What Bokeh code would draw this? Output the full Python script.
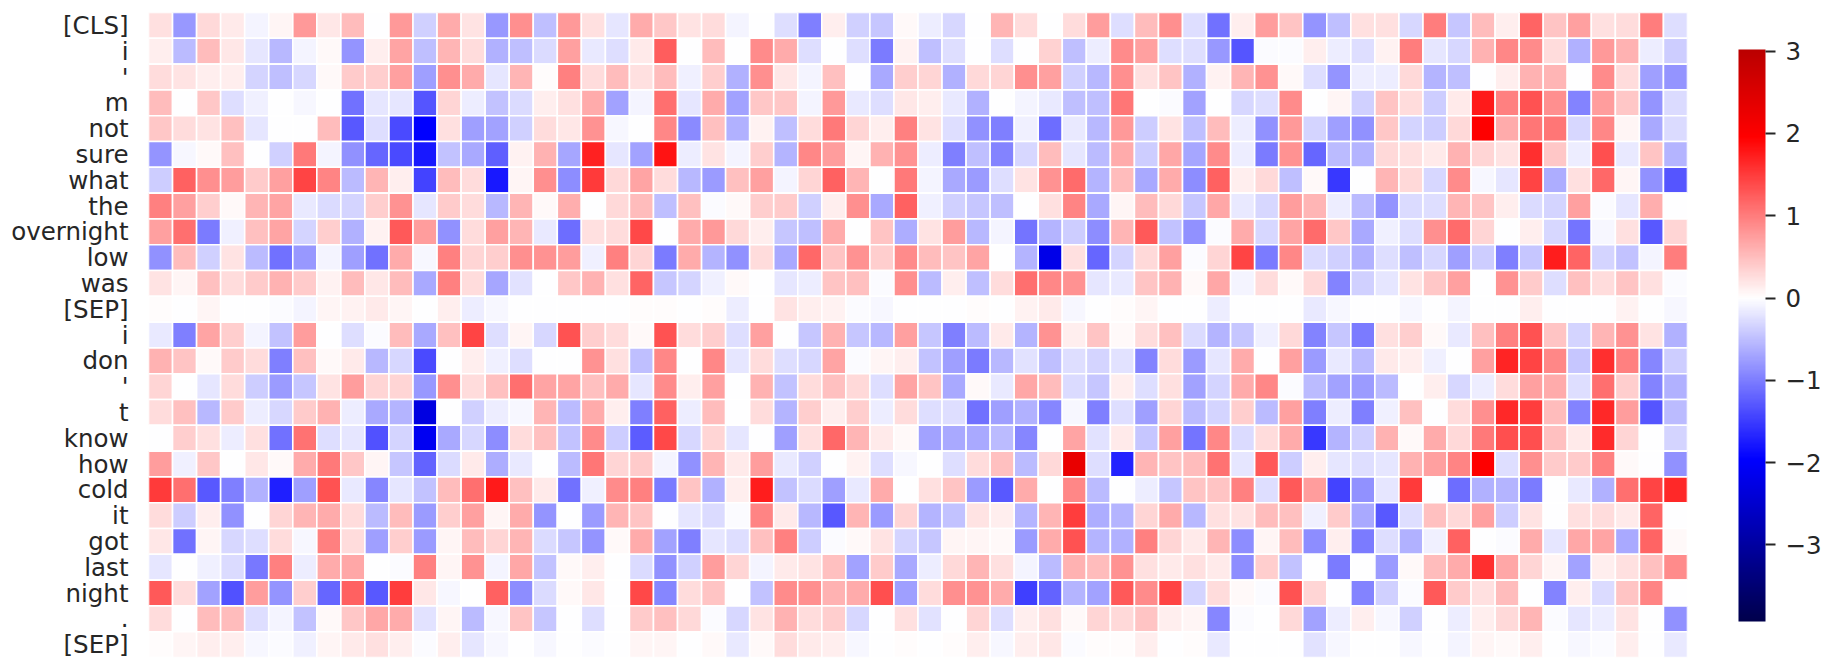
from bokeh.embed import file_html
from bokeh.resources import INLINE
from bokeh.plotting import figure
from bokeh.models import ColumnDataSource, LinearColorMapper, ColorBar, FixedTicker
import numpy as np

tokens = ["[CLS]", "i", "'", "m", "not", "sure", "what", "the", "overnight", "low", "was", "[SEP]",
          "i", "don", "'", "t", "know", "how", "cold", "it", "got", "last", "night", ".", "[SEP]"]

r00 = [.25,-.79,.3,.15,-.1,.08,.79,.17,.52,-.02,.79,-.37,.65,.2,-.79,.85,-.5,.79,.25,-.2,.65,.43,.2,.27,-.1,0,-.26,-.98,.12,-.37,-.43,.05,-.15,-.3,0,.57,.27,0,.27,.75,-.24,.5,.86,-.26,-1.1,.13,.75,.45,-.83,-.5,.25,.24,-.3,1.0,-.45,.52,.12,1.18,.45,.73,.24,.26,1.0,-.26]
r01 = [.12,-.52,.52,.17,-.2,-.55,-.1,.05,-.83,.13,.7,-.5,.57,.26,-.6,-.5,-.27,.73,-.17,-.24,.15,1.25,0,.5,-.01,.88,.65,-.24,-.01,-.24,-1.02,.09,-.5,-.24,0,-.24,0,.35,-.5,-.13,.88,.73,-.24,-.25,-.79,-1.3,-.03,-.04,.13,-.13,-.24,.1,1.0,-.2,-.3,.6,.92,.88,.27,-.6,.79,.6,-.15,-.39]
r02 = [.26,.2,.12,.12,-.33,-.5,-.3,.05,.39,.36,.73,-.73,.86,.65,-.2,.55,.03,.98,.26,.5,.24,.5,-.12,.36,-.6,.86,.17,-.08,.48,0,-.65,.36,.33,-.6,.3,.33,.85,.73,-.37,-.55,.86,.24,.45,-.6,.1,.55,.83,.04,-.25,-.83,-.13,-.13,.3,-.57,-.5,0,.12,.6,.55,0,.9,.27,-.75,-.83]
r03 = [.5,0,.43,-.25,-.12,0,-.07,0,-1.1,-.2,-.2,-1.31,.33,-.15,-.48,-.27,.14,.24,.65,-.7,-.1,1.1,-.2,.65,-.7,.43,.42,-.1,.79,-.17,-.25,.17,.14,-.17,-.6,0,-.1,-.17,-.5,-.5,1.05,0,-.04,-.7,0,-.3,-.24,.88,0,.08,-.37,.45,.26,-.39,.15,1.75,.98,1.31,.85,-.97,.76,.43,-.83,-.27]
r04 = [.43,.26,.22,.48,-.2,0,0,.52,-1.27,-.25,-1.38,-1.97,.24,-.73,-.7,-.37,.27,.17,.83,-.07,-.01,.92,-.9,.48,-.6,.1,-.5,.26,1.03,.33,.13,.98,.22,-.25,-.85,-.98,-.12,-1.13,-.17,-.55,.79,-.39,.22,-.5,.5,-.13,-.86,.79,-.33,-.73,-.85,.42,-.33,-.39,.3,1.97,.65,1.06,1.05,-.3,.92,.07,-.65,-.27]
r05 = [-.83,-.07,.05,.48,0,-.37,1.02,-.1,-.86,-1.18,-1.4,-1.78,-.48,-.65,-1.22,.1,.6,-.68,1.7,-.2,-.7,1.8,-.13,.22,-.1,.37,-.57,.92,.76,.07,.6,.83,-.15,-.98,-.5,-.95,-.3,.52,-.2,-.52,.65,-.39,.68,-.68,.9,-.14,-1.0,.83,-1.18,-.52,-.57,.3,.24,.15,.58,.33,.22,1.6,.43,-.13,1.35,-.16,.45,-.57]
r06 = [-.39,1.22,.85,.74,.39,.73,1.42,.95,-.52,.57,.14,-1.44,.52,.27,-1.78,.08,.86,-.88,1.5,.3,.7,.27,-.55,-.76,.48,.73,-.08,.33,1.22,.55,0,1.03,-.1,-.65,-.78,-.25,.22,.83,1.13,-.57,.52,-.66,.65,-.87,1.22,.13,.3,-.5,.05,-1.53,0,.55,.3,-.3,.88,-.07,-.2,1.44,-.63,.24,1.15,.07,-.85,-1.31]
r07 = [.98,.73,.36,.05,.55,.7,-.16,-.27,-.33,.36,.83,-.2,.39,.27,-.55,.55,.04,.62,0,.3,.52,-.5,.48,-.03,.05,.36,.39,-.37,.12,.85,-.66,1.22,-.12,-.37,-.45,-.5,0,.24,.95,-.65,.07,.52,.28,-.45,.66,-.17,-.3,.75,.57,-.13,-.52,-.81,-.27,-.25,.57,.45,.12,-.27,-.33,.73,-.04,-.2,.62,0]
r08 = [.73,1.1,-1.02,-.12,.48,.7,-.33,.36,-.6,.09,1.27,.76,-.86,.27,.73,.55,-.16,-1.12,.24,.26,1.4,0,.65,.79,.3,.12,-.43,-.5,.65,0,.45,-.63,.22,.76,-.55,-.1,-1.07,-.57,-.39,-.88,.57,1.27,-.48,-.86,-.03,.65,-.3,.7,1.13,.43,-.66,-.12,-.24,.85,1.13,.33,-.02,.13,-.3,-1.07,-.07,.24,-1.27,.33]
r09 = [-.85,.5,-.37,.2,-.52,-1.1,-.79,-.1,-.73,-1.08,.65,-.07,.96,.33,.36,.85,.84,.76,-.12,.98,.33,-1.02,.65,-.57,-.85,.27,-.66,1.17,.45,.83,.37,.88,.52,.45,.7,0,-.57,-2.2,.24,-1.17,-.33,.3,.73,-.03,.33,1.44,-1.02,.92,-.27,-.37,-.6,-.24,-.5,-.3,-.73,-.39,-.98,-.43,1.72,1.18,-.33,-.48,-.1,1.0]
r10 = [.22,.07,.48,.27,.39,.6,.39,.1,.5,.17,.52,-.65,.96,.27,-.68,-.22,0,.43,.6,.24,1.18,-.45,-.33,-.12,.05,0,-.2,-.15,.45,.48,-.03,.85,-.52,.12,-.5,.27,1.1,.92,.83,-.2,-.17,.45,.6,.05,.66,-.08,.27,.05,.3,-.96,-.37,-.2,.22,.43,.73,0,.83,.39,-.24,.48,.27,.45,.24,-.03]
r11 = [.01,0,.08,0,-.01,-.03,-.1,.08,.1,.16,.07,-.01,.12,-.13,-.07,0,0,0,-.01,-.01,.03,.01,-.01,.03,-.14,0,.2,.12,.09,-.03,-.05,0,0,-.01,.03,0,.1,.16,-.07,0,.03,.07,0,-.01,-.14,-.01,-.01,0,-.16,-.07,0,0,-.05,-.01,-.1,0,0,.13,-.01,-.01,-.01,.1,0,-.07]
r12 = [-.17,-.98,.7,.36,-.1,-.48,.76,0,-.25,-.03,.52,-.65,.48,1.44,-.25,.08,-.3,1.31,.36,.26,.05,1.31,.26,.36,-.24,.73,0,-.43,.6,-.45,-.55,.73,-.45,-.98,-.52,.15,-.57,.83,.13,.45,.05,.26,.48,-.27,-.57,-.45,-.12,.3,-.95,-.43,-1.02,.24,.36,.05,-.16,.48,.98,1.31,.45,-.33,.55,.83,.22,-.6]
r13 = [.6,.45,.05,.39,.26,-.98,.48,.05,.15,-.55,-.3,-1.38,0,.12,-.12,-.24,0,0,.83,.24,-.5,.92,0,.92,-.2,.27,-.25,-.3,.7,-.03,.07,.13,-.48,-.73,-1.02,-.55,-.22,-.5,-.25,-.33,-.22,-.96,.27,-.76,-.2,.65,0,.73,-.78,-.17,-.52,.15,.12,-.12,0,.73,1.68,1.42,.92,-.43,1.6,.98,-.92,-.39]
r14 = [.33,0,-.2,.27,-.39,-.76,-.45,.22,.76,.33,.33,-.8,.85,.27,.48,1.1,.7,.7,.48,.65,-.2,.88,.13,.73,0,.6,-.48,.27,.48,.3,-.24,.7,.45,-.66,.05,-.17,.66,.52,-.27,-.45,.14,-.25,.24,-.7,-.33,.65,.92,-.04,-.52,-.7,-.76,-.52,0,.12,-.3,-.13,.26,.73,.65,-.25,1.1,.36,-.95,-.6]
r15 = [.27,.48,-.55,.39,-.14,-.3,.39,.6,-.14,-.65,-.57,-2.3,0,-.37,-.13,-.07,.55,-.52,.65,.14,-.98,1.22,-.14,.5,0,.26,-.57,.37,.12,.37,-.14,.26,-.24,-.25,-1.1,-.73,-.6,-.92,-.07,-.98,-.25,-.74,.33,-.52,-.33,.36,-.52,.73,-.98,-.14,-.98,-.12,.48,0,.27,.86,1.65,1.48,.52,-.95,1.65,.76,-1.31,-.52]
r16 = [0,.36,.24,-.14,.24,-1.1,1.07,-.25,-.2,-1.33,-.33,-2.1,-.65,-.3,-.88,.27,.48,-.48,.88,-.39,-1.26,1.4,-.3,.33,-.2,0,-.73,.24,1.17,.57,.15,.05,-.7,-.65,-.65,-.52,-.92,0,.7,-.22,.15,-.43,.73,-1.07,.92,-.27,.27,.65,-1.52,-.57,-.37,.6,.05,.65,.3,1.02,1.35,1.35,.48,.16,1.62,.33,0,-.33]
r17 = [.76,-.12,.43,0,.18,.05,.65,1.02,.43,.08,-.43,-1.2,-.27,.16,-.62,-.16,0,-.52,1.05,.33,.39,-.1,-.85,.57,.15,.76,-.17,-.37,0,.1,-.25,-.07,-.01,-.24,.27,.48,-.52,.3,2.3,-.25,-1.7,.57,.45,.52,1.08,-.2,1.27,-.39,.12,-.2,-.25,-.2,.6,.73,.95,1.97,-.24,.85,.39,.39,.98,.04,0,-.85]
r18 = [1.5,1.1,-1.27,-.98,-.6,-1.72,-.73,1.31,-.17,-.92,-.2,-.48,.52,1.1,1.75,.48,.16,-1.1,-.12,.88,.98,-1.02,.45,-.6,.14,1.72,-.48,-.27,-.75,-.17,.65,0,.24,.45,-.76,-1.27,.65,0,.92,-.52,0,-.14,-.45,.45,.45,.98,-.25,1.27,.76,-1.44,-.85,-.2,1.5,0,-1.13,-.6,-.57,-1.02,0,-.17,-.6,1.1,1.42,1.65]
r19 = [.26,-.39,.14,-.85,0,.33,.55,.65,.27,-.52,.52,-.76,.36,.73,.08,.65,-.83,-.01,-.76,.55,.45,-.01,-.2,-.27,-.03,.95,.15,-.55,-1.27,.55,-.76,.33,-.57,-.48,.22,.14,-.57,.55,1.48,-.63,-.57,.33,.65,-.55,.24,.22,.52,.48,-.12,.39,-.66,-1.27,-.24,.48,.3,.73,-.39,.22,0,.24,.27,.15,1.2,0]
r20 = [.18,-1.1,.08,-.3,-.24,.27,-.07,.98,.26,-.73,.36,-.76,.07,.52,.33,.55,-.27,-.45,-.81,.05,.65,-.7,-.98,-.2,-.24,.48,.98,-.39,-.03,.05,.22,-.33,-.45,.08,.08,.05,-.76,.65,1.31,-.57,-.6,.98,.33,.16,.57,-.87,.08,.52,-.87,.14,-1.02,-.25,-.6,-.12,1.22,0,-.04,.65,-.2,.66,.7,-.66,1.2,.04]
r21 = [-.2,0,-.12,-.27,-1.05,.98,-.14,.65,.66,0,-.04,.98,.08,.83,-.08,.66,-.48,.04,.12,0,-.27,-.85,-.37,.76,.33,-.08,.16,.2,.48,-.7,.39,-.66,-.14,.3,.57,.24,-.1,-.52,.6,.5,.83,.24,.15,.24,.15,-.87,.36,-.48,0,-1.02,0,-.78,.05,.52,.65,1.6,.66,.33,.08,-.7,.14,.24,.48,.88]
r22 = [1.27,.27,-.7,-1.33,.76,-.83,.36,-1.18,1.22,-1.27,1.48,.18,-.07,0,1.22,-.87,-.27,.04,.18,0,1.4,-.92,.27,.45,0,-.48,.88,.85,.6,.65,1.35,-.73,.27,.85,.83,.65,-1.48,-1.2,-.57,-.7,1.27,.88,1.44,-.33,.27,.05,-.04,1.31,.33,0,-.95,-.37,-.04,1.27,.39,.24,.5,0,-.95,.14,-.27,.45,.95,0]
r23 = [.27,0,.52,.52,-.25,-.1,-.48,.05,.42,.66,.65,-.22,.08,-.52,-.07,.45,-.45,0,-.24,0,.39,.48,.3,-.03,-.3,.22,.6,.26,.36,-.3,0,.24,-.22,0,.33,-.24,.14,.24,.04,.33,.3,.45,.14,.08,-.92,-.03,0,.3,-.7,-.14,.14,-.07,-.37,0,-.14,.12,.3,.57,-.03,-.2,-.14,.22,0,-.85]
r24 = [.02,.08,.12,.12,-.07,-.03,-.12,.08,.15,.24,.12,-.03,.14,-.2,-.07,0,-.07,0,-.03,0,.08,.08,0,.05,-.17,.05,.27,.16,.12,-.07,0,.03,0,.01,.13,-.07,.12,.18,-.03,.03,.03,.13,0,.03,-.16,0,0,0,-.22,-.07,0,-.01,-.05,0,-.1,.07,.04,.14,0,-.07,-.03,.12,0,-.17]

rows = [r00, r01, r02, r03, r04, r05, r06, r07, r08, r09, r10, r11, r12,
        r13, r14, r15, r16, r17, r18, r19, r20, r21, r22, r23, r24]
for i, r in enumerate(rows):
    assert len(r) == 64, (i, len(r))

colorbar_ticks = [-3, -2, -1, 0, 1, 2, 3]
colorbar_labels = ["\u22123", "\u22122", "\u22121", "0", "1", "2", "3"]
data_low = -3.93
data_high = 3.02

# seaborn-style centred slice of the "seismic" colormap
anchors_t = [0.0, 0.25, 0.5, 0.75, 1.0]
anchors_r = [0.0, 0.0, 1.0, 1.0, 0.5]
anchors_g = [0.0, 0.0, 1.0, 0.0, 0.0]
anchors_b = [0.3, 1.0, 1.0, 0.0, 0.0]
vr = max(abs(data_low), abs(data_high))
ts = np.linspace(0.5 + data_low / (2 * vr), 0.5 + data_high / (2 * vr), 256)
palette = ["#%02x%02x%02x" % (round(255 * np.interp(t, anchors_t, anchors_r)),
                              round(255 * np.interp(t, anchors_t, anchors_g)),
                              round(255 * np.interp(t, anchors_t, anchors_b))) for t in ts]
mapper = LinearColorMapper(palette=palette, low=data_low, high=data_high)

ncol, nrow = len(rows[0]), len(rows)
xs, ys, vals = [], [], []
for j, r in enumerate(rows):
    for i, v in enumerate(r):
        xs.append(i + 0.5)
        ys.append(j + 0.5)
        vals.append(v)
src = ColumnDataSource(dict(x=xs, y=ys, v=vals))

p = figure(frame_width=1539, frame_height=645, x_range=(0, ncol), y_range=(nrow, 0),
           output_backend="svg", toolbar_location=None,
           min_border_left=148, min_border_top=12, min_border_bottom=5, min_border_right=130,
           background_fill_color="white", border_fill_color="white", outline_line_color=None)
p.rect("x", "y", width=1, height=1, source=src,
       fill_color={"field": "v", "transform": mapper}, line_color="white", line_width=1.6)
p.grid.visible = False
p.xaxis.visible = False
ax = p.yaxis[0]
ax.ticker = FixedTicker(ticks=[i + 0.5 for i in range(nrow)])
ax.major_label_overrides = {i + 0.5: t for i, t in enumerate(tokens)}
ax.axis_line_color = None
ax.major_tick_line_color = None
ax.minor_tick_line_color = None
ax.major_tick_out = 0
ax.major_tick_in = 0
ax.major_label_standoff = 20
ax.major_label_text_font = "DejaVu Sans"
ax.major_label_text_font_size = "24.5px"
ax.major_label_text_color = "#262626"

cb = ColorBar(color_mapper=mapper, location=(51, 36), width=27, height=572, padding=0, margin=0,
              ticker=FixedTicker(ticks=colorbar_ticks),
              major_label_overrides=dict(zip(colorbar_ticks, colorbar_labels)),
              major_label_text_font="DejaVu Sans", major_label_text_font_size="24.5px",
              major_label_text_color="#262626", major_tick_in=0, major_tick_out=10,
              major_tick_line_color="#262626", major_tick_line_width=2, minor_tick_line_color=None,
              bar_line_color=None, label_standoff=10, border_line_color=None,
              background_fill_color=None)
p.add_layout(cb, "right")

open("out.html", "w").write(file_html(p, INLINE))
